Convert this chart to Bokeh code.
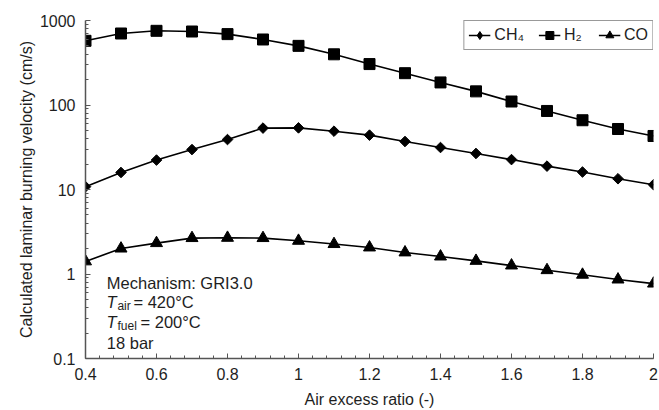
import math
from bokeh.plotting import figure
from bokeh.models import Range1d, FixedTicker, Label, Legend, LegendItem
from bokeh.embed import file_html
from bokeh.resources import INLINE

# ---- data ----
air_ratio = [0.4, 0.5, 0.6, 0.7, 0.8, 0.9, 1.0, 1.1, 1.2, 1.3, 1.4, 1.5, 1.6, 1.7, 1.8, 1.9, 2.0]
ch4 = [10.8, 15.9, 22.3, 29.7, 39.0, 53.3, 53.6, 49.0, 44.0, 37.0, 31.4, 26.7, 22.6, 18.9, 16.1, 13.4, 11.4]
h2 = [575, 702, 755, 741, 690, 596, 501, 398, 305, 238, 185, 145, 110, 85, 66, 52, 43]
co = [1.41, 2.00, 2.32, 2.66, 2.68, 2.66, 2.47, 2.26, 2.06, 1.80, 1.61, 1.43, 1.26, 1.11, 0.98, 0.86, 0.77]

x_major = [0.4, 0.6, 0.8, 1.0, 1.2, 1.4, 1.6, 1.8, 2.0]
x_labels = ["0.4", "0.6", "0.8", "1", "1.2", "1.4", "1.6", "1.8", "2"]
x_minor = [round(0.4 + 0.04 * i, 2) for i in range(41)]
y_major = [0.1, 1, 10, 100, 1000]
y_labels = ["0.1", "1", "10", "100", "1000"]
y_minor = [m * d for d in (0.1, 1, 10, 100) for m in range(2, 10)]

FONT = "Liberation Sans"
FS = "16px"
INK = "#1e1e1e"

p = figure(width=659, height=410, x_range=Range1d(0.4, 2.0), y_range=Range1d(0.1, 1000),
           y_axis_type="log", output_backend="svg", toolbar_location=None,
           min_border_left=85, min_border_right=6, min_border_top=20, min_border_bottom=52)
p.outline_line_color = None
p.xgrid.visible = False
p.ygrid.visible = False

for ax in (p.xaxis[0], p.yaxis[0]):
    ax.axis_line_color = "#555555"
    ax.axis_line_width = 1.5
    ax.major_tick_line_color = "#555555"
    ax.minor_tick_line_color = "#555555"
    ax.major_tick_in = 5
    ax.major_tick_out = 0
    ax.minor_tick_in = 3
    ax.minor_tick_out = 0
    ax.major_label_text_font = FONT
    ax.major_label_text_font_size = FS
    ax.major_label_text_color = INK
    ax.axis_label_text_font = FONT
    ax.axis_label_text_font_size = FS
    ax.axis_label_text_font_style = "normal"
    ax.axis_label_text_color = INK

p.xaxis.ticker = FixedTicker(ticks=x_major, minor_ticks=x_minor)
p.xaxis.major_label_overrides = {t: l for t, l in zip(x_major, x_labels)}
p.xaxis.axis_label = "Air excess ratio (-)"
p.xaxis.major_label_standoff = 9
p.xaxis.axis_label_standoff = 8

p.yaxis.ticker = FixedTicker(ticks=y_major, minor_ticks=y_minor)
p.yaxis.major_label_overrides = {t: l for t, l in zip(y_major, y_labels)}
p.yaxis.axis_label = "Calculated laminar burning velocity (cm/s)"
p.yaxis.major_label_standoff = 10
p.yaxis.axis_label_standoff = 2

nan = float("nan")
# (label, values, marker, size, angle, legend marker, legend size)
series = [
    ("CH\u2084", ch4, "square", 7.5, math.pi / 4, "diamond", 12),
    ("H\u2082", h2, "square", 11, 0.0, "square", 10),
    ("CO", co, "triangle", 12, 0.0, "triangle", 11),
]
items = []
for name, ys, marker, size, angle, lmarker, lsize in series:
    l = p.line(air_ratio, ys, line_color="black", line_width=1.6)
    p.scatter(air_ratio, ys, marker=marker, size=size, angle=angle,
              fill_color="black", line_color="black")
    lg = p.scatter(x=[nan], y=[nan], marker=lmarker, size=lsize,
                   fill_color="black", line_color="black")
    items.append(LegendItem(label=name, renderers=[l, lg]))

legend = Legend(items=items, orientation="horizontal", location="top_right")
legend.margin = 0
legend.padding = 4
legend.spacing = 14
legend.label_standoff = 4
legend.glyph_width = 22
legend.glyph_height = 20
legend.label_text_font = FONT
legend.label_text_font_size = FS
legend.label_text_color = INK
legend.border_line_color = "#333333"
legend.border_line_width = 1.2
legend.background_fill_alpha = 1.0
p.add_layout(legend)

# annotation block
AFS = "16.5px"
SFS = "12px"
notes = [
    (0.460, 0.79, "Mechanism: GRI3.0", "normal", AFS),
    (0.459, 0.469, "T", "italic", AFS),
    (0.490, 0.42, "air", "normal", SFS),
    (0.535, 0.469, "= 420\u00b0C", "normal", AFS),
    (0.459, 0.272, "T", "italic", AFS),
    (0.490, 0.244, "fuel", "normal", SFS),
    (0.555, 0.272, "= 200\u00b0C", "normal", AFS),
    (0.460, 0.153, "18 bar", "normal", AFS),
]
for x, y, t, style, fs in notes:
    p.add_layout(Label(x=x, y=y, text=t, text_font=FONT, text_font_size=fs,
                       text_font_style=style, text_baseline="middle", text_align="left",
                       text_color=INK))

open("out.html", "w").write(file_html(p, INLINE))
